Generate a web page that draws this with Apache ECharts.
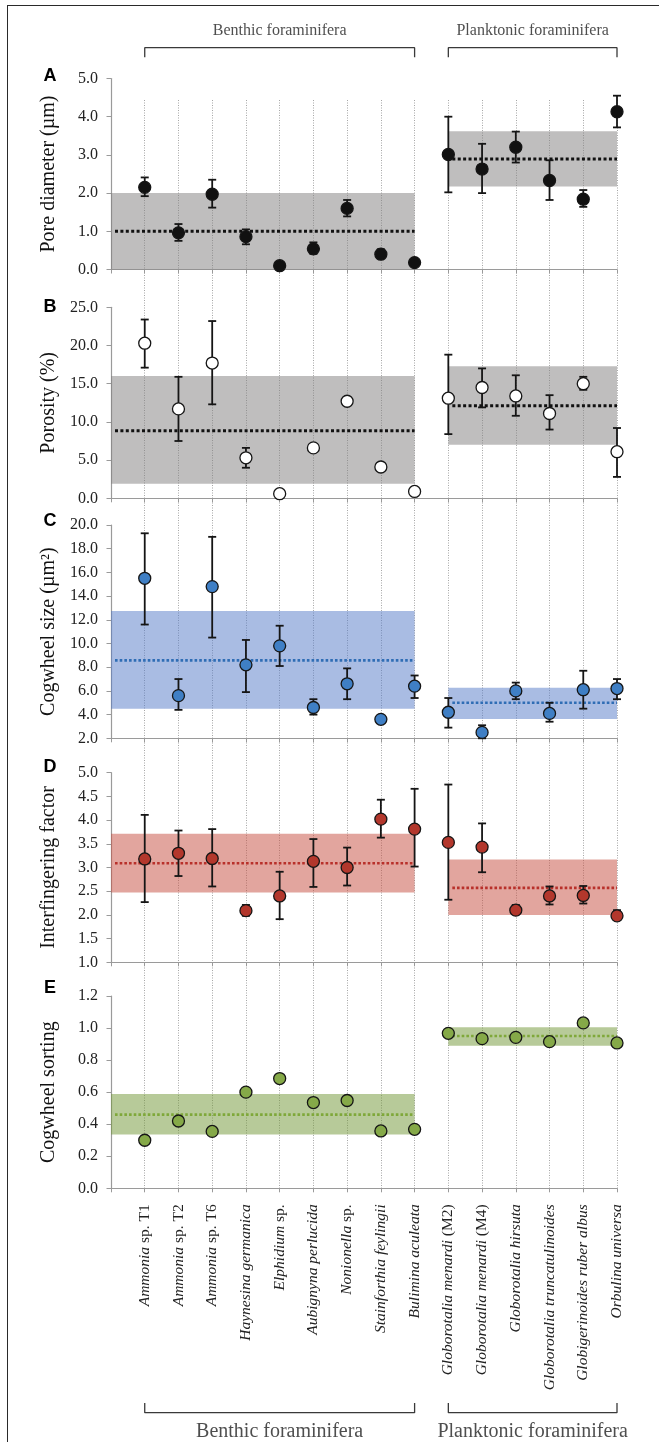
<!DOCTYPE html>
<html>
<head>
<meta charset="utf-8">
<script src="https://cdn.jsdelivr.net/npm/echarts@6/dist/echarts.min.js"></script>
<style>
  html, body { margin: 0; padding: 0; background: #fff; }
  #wrap { position: relative; width: 659px; height: 1442px; overflow: hidden; }
  #c { position: absolute; left: 0; top: 0; width: 659px; height: 1442px; }
  #frame { position: absolute; left: 7px; top: 5px; width: 700px; height: 1500px;
           border-left: 1.6px solid #2a2a2a; border-top: 1.6px solid #2a2a2a; pointer-events: none; }
</style>
</head>
<body>
<div id="wrap"><div id="c"></div><div id="frame"></div></div>
<script>
// ---------------- DATA ----------------
const categories = [
  'Ammonia sp. T1', 'Ammonia sp. T2', 'Ammonia sp. T6', 'Haynesina germanica',
  'Elphidium sp.', 'Aubignyna perlucida', 'Nonionella sp.', 'Stainforthia feylingii',
  'Bulimina aculeata', 'Globorotalia menardi (M2)', 'Globorotalia menardi (M4)',
  'Globorotalia hirsuta', 'Globorotalia truncatulinoides', 'Globigerinoides ruber albus',
  'Orbulina universa'
];

const groupNames = ['Benthic foraminifera', 'Planktonic foraminifera'];
const groupFirst = [1, 10];
const groupLast = [9, 15];
const bandFrom = [0, 10];
const bandTo = [9, 15];

// A: pore diameter (µm)
const poreMean = [2.15, 0.96, 1.97, 0.86, 0.10, 0.54, 1.60, 0.40, 0.18, 3.01, 2.63, 3.20, 2.33, 1.84, 4.13];
const poreLow  = [1.92, 0.75, 1.62, 0.66, 0.05, 0.41, 1.39, 0.29, 0.13, 2.02, 2.00, 2.80, 1.82, 1.64, 3.72];
const poreHigh = [2.41, 1.19, 2.35, 1.05, 0.15, 0.71, 1.82, 0.53, 0.23, 4.00, 3.29, 3.61, 2.86, 2.08, 4.55];
const poreBandLow = [0.0, 2.17];
const poreBandHigh = [2.0, 3.62];
const poreBandMean = [1.0, 2.89];

// B: porosity (%)
const porosityMean = [20.3, 11.7, 17.7, 5.3, 0.6, 6.6, 12.7, 4.1, 0.9, 13.1, 14.5, 13.4, 11.1, 15.0, 6.1];
const porosityLow  = [17.1, 7.5, 12.3, 4.0, 0.6, 6.6, 12.7, 4.1, 0.9, 8.4, 11.9, 10.8, 9.0, 14.2, 2.8];
const porosityHigh = [23.4, 15.9, 23.2, 6.6, 0.6, 6.6, 12.7, 4.1, 0.9, 18.8, 17.0, 16.1, 13.5, 15.9, 9.2];
const porosityBandLow = [1.9, 7.0];
const porosityBandHigh = [16.0, 17.3];
const porosityBandMean = [8.85, 12.1];

// C: cogwheel size (µm²)
const sizeMean = [15.5, 5.6, 14.8, 8.2, 9.8, 4.6, 6.6, 3.6, 6.4, 4.2, 2.5, 6.0, 4.1, 6.1, 6.2];
const sizeLow  = [11.6, 4.4, 10.5, 5.9, 8.1, 4.0, 5.3, 3.6, 5.4, 2.9, 2.0, 5.3, 3.4, 4.5, 5.3];
const sizeHigh = [19.3, 7.0, 19.0, 10.3, 11.5, 5.3, 7.9, 3.6, 7.3, 5.4, 3.1, 6.7, 5.0, 7.7, 7.0];
const sizeBandLow = [4.5, 3.63];
const sizeBandHigh = [12.75, 6.27];
const sizeBandMean = [8.58, 5.0];

// D: interfingering factor
const interMean = [3.18, 3.30, 3.19, 2.09, 2.40, 3.13, 3.00, 4.02, 3.81, 3.53, 3.43, 2.10, 2.40, 2.41, 1.98];
const interLow  = [2.27, 2.82, 2.60, 1.98, 1.91, 2.59, 2.62, 3.63, 3.02, 2.32, 2.90, 2.01, 2.22, 2.24, 1.89];
const interHigh = [4.11, 3.78, 3.81, 2.21, 2.91, 3.60, 3.42, 4.43, 4.66, 4.75, 3.93, 2.21, 2.60, 2.61, 2.10];
const interBandLow = [2.47, 2.0];
const interBandHigh = [3.71, 3.17];
const interBandMean = [3.09, 2.57];

// E: cogwheel sorting
const sortMean = [0.30, 0.42, 0.355, 0.60, 0.685, 0.535, 0.548, 0.358, 0.368, 0.967, 0.934, 0.942, 0.915, 1.032, 0.907];
const sortBandLow = [0.335, 0.89];
const sortBandHigh = [0.588, 1.005];
const sortBandMean = [0.46, 0.95];

// axis ranges (tick labels)
const panelLetters = ['A', 'B', 'C', 'D', 'E'];
const axisNames = ['Pore diameter (µm)', 'Porosity (%)', 'Cogwheel size (µm²)', 'Interfingering factor', 'Cogwheel sorting'];
const axisMin = [0, 0, 2, 1, 0];
const axisMax = [5, 25, 20, 5, 1.2];
const axisStep = [1, 5, 2, 0.5, 0.2];

// ---------------- LAYOUT / STYLE ----------------
const SERIF = '"Liberation Serif", "Times New Roman", serif';
const SANS = '"Liberation Sans", Arial, sans-serif';
const LEFT = 111, WIDTH = 506;
const panelTop = [78.5, 307.3, 525, 772.7, 996];
const panelH = [191, 191, 213.3, 189.6, 192.3];
const letterY = [76, 307, 521, 767, 988];
const markerFill = ['#111111', '#ffffff', '#3f7fc5', '#b3372c', '#85a948'];
const bandFill = ['rgba(128,126,126,0.5)', 'rgba(128,126,126,0.5)', 'rgba(83,121,199,0.5)', 'rgba(197,75,61,0.5)', 'rgba(111,149,51,0.5)'];
const meanColor = ['#111111', '#111111', '#2f6db5', '#b8302a', '#7fa83a'];
const meanWidth = [3, 3, 2.6, 2.6, 2.6];

const panels = [
  { mean: poreMean, low: poreLow, high: poreHigh, bl: poreBandLow, bh: poreBandHigh, bm: poreBandMean },
  { mean: porosityMean, low: porosityLow, high: porosityHigh, bl: porosityBandLow, bh: porosityBandHigh, bm: porosityBandMean },
  { mean: sizeMean, low: sizeLow, high: sizeHigh, bl: sizeBandLow, bh: sizeBandHigh, bm: sizeBandMean },
  { mean: interMean, low: interLow, high: interHigh, bl: interBandLow, bh: interBandHigh, bm: interBandMean },
  { mean: sortMean, low: null, high: null, bl: sortBandLow, bh: sortBandHigh, bm: sortBandMean }
];

function labelRich(v) {
  const i = Math.round(v);
  if (i < 1 || i > categories.length) return '';
  const name = categories[i - 1];
  const m = name.match(/^(.*?)( sp\..*| \(M\d\))$/);
  if (m) return '{i|' + m[1] + '}{r|' + m[2] + '}';
  return '{i|' + name + '}';
}

const grid = [], xAxis = [], yAxis = [], series = [], graphic = [];

panels.forEach((p, k) => {
  grid.push({ left: LEFT, width: WIDTH, top: panelTop[k], height: panelH[k] });
  const isLast = k === panels.length - 1;
  xAxis.push({
    gridIndex: k, type: 'value', min: 0, max: categories.length, interval: 1,
    axisLine: { show: true, onZero: false, lineStyle: { color: '#9a9a9a', width: 1.2 } },
    axisTick: { show: true, length: 4, lineStyle: { color: '#9a9a9a' } },
    splitLine: { show: false },
    axisLabel: isLast ? {
      show: true, rotate: 90, margin: 16, showMinLabel: true, showMaxLabel: true,
      formatter: labelRich,
      rich: {
        i: { fontFamily: SERIF, fontStyle: 'italic', fontSize: 15.5, color: '#222' },
        r: { fontFamily: SERIF, fontSize: 15.5, color: '#222' }
      }
    } : { show: false }
  });
  yAxis.push({
    gridIndex: k, type: 'value', min: axisMin[k], max: axisMax[k], interval: axisStep[k],
    name: axisNames[k], nameLocation: 'middle', nameGap: 52,
    nameTextStyle: { fontFamily: SERIF, fontSize: 20, color: '#111' },
    axisLine: { show: true, lineStyle: { color: '#9a9a9a', width: 1.2 } },
    axisTick: { show: true, length: 4.5, lineStyle: { color: '#9a9a9a' } },
    splitLine: { show: false },
    axisLabel: { margin: 13, fontFamily: SERIF, fontSize: 16, color: '#222',
      formatter: v => v.toFixed(1) }
  });

  // bands + mean lines
  series.push({
    type: 'custom', xAxisIndex: k, yAxisIndex: k, silent: true, z: 1, clip: false,
    data: bandFrom.map((f, g) => [f, bandTo[g], p.bl[g], p.bh[g], p.bm[g]]),
    encode: { x: [0, 1], y: [2, 3, 4] },
    renderItem: (params, api) => {
      const a = api.coord([api.value(0), api.value(3)]);
      const b = api.coord([api.value(1), api.value(2)]);
      const m0 = api.coord([api.value(0), api.value(4)]);
      const m1 = api.coord([api.value(1), api.value(4)]);
      return { type: 'group', children: [
        { type: 'rect', shape: { x: a[0], y: a[1], width: b[0] - a[0], height: b[1] - a[1] },
          style: { fill: bandFill[k] } },
        { type: 'line', shape: { x1: m0[0] + 4, y1: m0[1], x2: m1[0], y2: m1[1] },
          style: { stroke: meanColor[k], lineWidth: meanWidth[k], lineDash: [meanWidth[k], meanWidth[k] * 0.8] } }
      ] };
    }
  });

  // error bars
  if (p.low) {
    series.push({
      type: 'custom', xAxisIndex: k, yAxisIndex: k, silent: true, z: 3, clip: false,
      data: categories.map((c, i) => [i + 1, p.low[i], p.high[i]]),
      encode: { x: 0, y: [1, 2] },
      renderItem: (params, api) => {
        const x = api.value(0);
        const lo = api.coord([x, api.value(1)]);
        const hi = api.coord([x, api.value(2)]);
        if (Math.abs(lo[1] - hi[1]) < 1) return { type: 'group', children: [] };
        const w = 4;
        const st = { stroke: '#151515', lineWidth: 1.8 };
        return { type: 'group', children: [
          { type: 'line', shape: { x1: lo[0], y1: lo[1], x2: hi[0], y2: hi[1] }, style: st },
          { type: 'line', shape: { x1: lo[0] - w, y1: lo[1], x2: lo[0] + w, y2: lo[1] }, style: st },
          { type: 'line', shape: { x1: hi[0] - w, y1: hi[1], x2: hi[0] + w, y2: hi[1] }, style: st }
        ] };
      }
    });
  }

  // markers
  series.push({
    type: 'scatter', xAxisIndex: k, yAxisIndex: k, silent: true, z: 5, clip: false,
    symbol: 'circle', symbolSize: 12,
    itemStyle: { color: markerFill[k], borderColor: '#151515', borderWidth: 1.3, opacity: 1 },
    data: categories.map((c, i) => [i + 1, p.mean[i]])
  });

  graphic.push({
    type: 'text', x: 50, y: letterY[k],
    style: { text: panelLetters[k], font: 'bold 18px ' + SANS, fill: '#000', align: 'center', verticalAlign: 'middle' }
  });
});

// background grid for the dotted vertical guide lines
const bgTop = 100, bgBottom = panelTop[4] + panelH[4];
grid.push({ left: LEFT, width: WIDTH, top: bgTop, height: bgBottom - bgTop });
xAxis.push({
  gridIndex: 5, type: 'value', min: 0, max: categories.length, interval: 1,
  axisLine: { show: false }, axisTick: { show: false }, axisLabel: { show: false },
  splitLine: { show: true, showMinLine: false, showMaxLine: true,
    lineStyle: { color: '#a6a6a6', type: [1, 1.5], width: 1 } }
});
yAxis.push({ gridIndex: 5, type: 'value', min: 0, max: 1, show: false });

// bracket grids (top = 6, bottom = 7)
grid.push({ left: LEFT, width: WIDTH, top: 47.7, height: 9.6 });
grid.push({ left: LEFT, width: WIDTH, top: 1403, height: 9.7 });
[6, 7].forEach(gi => {
  xAxis.push({ gridIndex: gi, type: 'value', min: 0, max: categories.length, show: false });
  yAxis.push({ gridIndex: gi, type: 'value', min: 0, max: 1, show: false });
});
groupNames.forEach((name, g) => {
  const f = groupFirst[g], l = groupLast[g];
  series.push({
    type: 'line', xAxisIndex: 6, yAxisIndex: 6, silent: true, symbol: 'none', clip: false,
    lineStyle: { color: '#3a3a3a', width: 1.3 },
    data: [[f, 0], [f, 1], [l, 1], [l, 0]]
  });
  series.push({
    type: 'line', xAxisIndex: 7, yAxisIndex: 7, silent: true, symbol: 'none', clip: false,
    lineStyle: { color: '#3a3a3a', width: 1.3 },
    data: [[f, 1], [f, 0], [l, 0], [l, 1]]
  });
  series.push({
    type: 'scatter', xAxisIndex: 6, yAxisIndex: 6, silent: true, symbolSize: 0, clip: false,
    data: [[(f + l) / 2, 1, name]],
    label: { show: true, position: 'top', distance: 9, formatter: d => d.value[2],
      fontFamily: SERIF, fontSize: 16, color: '#222' }
  });
  series.push({
    type: 'scatter', xAxisIndex: 7, yAxisIndex: 7, silent: true, symbolSize: 0, clip: false,
    data: [[(f + l) / 2, 0, name]],
    label: { show: true, position: 'bottom', distance: 9, formatter: d => d.value[2],
      fontFamily: SERIF, fontSize: 20, color: '#222' }
  });
});

const chart = echarts.init(document.getElementById('c'), null, { renderer: 'canvas' });
chart.setOption({
  animation: false,
  backgroundColor: '#ffffff',
  grid, xAxis, yAxis, series, graphic
});
</script>
</body>
</html>
